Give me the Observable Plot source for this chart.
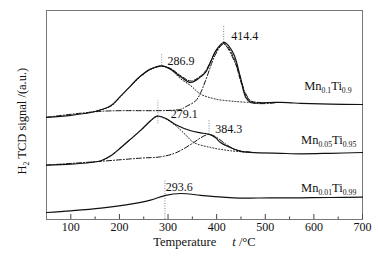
<!DOCTYPE html>
<html>
<head>
<meta charset="utf-8">
<script src="https://cdn.jsdelivr.net/npm/d3@7"></script>
<script src="https://cdn.jsdelivr.net/npm/@observablehq/plot@0.6"></script>
<style>
  html, body { margin: 0; padding: 0; background: #fff; }
  svg, svg text, svg tspan { font-family: "Liberation Serif", "Times New Roman", serif !important; }
</style>
</head>
<body>
<div id="chart"></div>
<script>
// ---------- data (temperature °C, signal a.u.) ----------
const xDomain = [50, 700];
const yDomain = [0, 209];
const majorTicks = [100, 200, 300, 400, 500, 600, 700];
const minorTicks = [150, 250, 350, 450, 550, 650];

// Mn0.1Ti0.9
const topT     = [50,100,141,162,182,203,223,244,264,287,305,326,347,367,377,388,398,414,418,435,449,460,470,491,511,532,553,573,634,700];
const topS     = [102.2,104.2,107,109.7,113.7,123.7,133.7,143.7,150.4,153.7,150.4,142.7,137,142.7,147,158,168.7,177,176.7,165.4,142,122,117,116.7,116.9,117.2,116.7,116.2,115.4,115];
const topFitT  = [244,264,287,305,326,347,367,377,398,414,418,435,449,460,470,491];
const topFitS  = [143.5,150.2,153.2,151,143.8,138.5,143.5,148.5,167.5,176,175.5,162,139,124,118.5,117];
const topP1T   = [141,182,203,223,244,264,287,305,326,347,367,398,439,470];
const topP1S   = [107.2,113.2,123.2,133.2,143.2,150.2,153.4,150.2,140.7,133.7,125.4,120.4,118,117];
const topP2T   = [50,162,326,336,357,367,377,398,414,439,460,474,520];
const topP2S   = [102.2,108.2,110.2,112.7,118.7,126.7,138.7,165.4,175.4,155.7,125.7,117,116.7];

// Mn0.05Ti0.95
const midT     = [50,100,141,162,182,203,223,244,264,277,295,316,347,367,384,398,408,429,449,470,532,573,634,700];
const midS     = [54.4,55.4,57,58.7,63.7,72,80.4,89.4,98.7,103.4,101.2,94.7,88.7,86.7,85.2,81.7,77,71.7,68.2,67.2,66.2,65.7,66.2,67];
const midP1T   = [162,182,203,223,244,264,277,295,316,336,353,388,429,470];
const midP1S   = [58.4,63.4,71.7,80.1,89.1,98.4,103.1,100.7,93.7,84.7,77,72,68.7,67.2];
const midP2T   = [50,162,244,285,316,353,367,384,398,418,439,470];
const midP2S   = [54.4,58.2,61.4,62.7,66.7,77,81.7,85.2,82.7,75.7,69.7,67.2];

// Mn0.01Ti0.99
const lowT     = [50,100,162,223,264,295,326,367,412,447,511,573,634,700];
const lowS     = [7,8.7,11.4,15.4,19.4,24.2,26,24.2,22.4,21.4,21.7,21.7,22,22.4];

// peak markers
const peakLabels = ["414.4", "286.9", "279.1", "384.3", "293.6"];
const peakT      = [414.4, 286.9, 279.1, 384.3, 293.6];
const peakLow    = [177, 153.7, 95.7, 85.2, 0];
const peakHigh   = [193.7, 165.7, 118.7, 98.7, 38.7];
const peakTextT  = [430, 298.7, 305.5, 397, 295.2];
const peakTextS  = [183.7, 158.7, 105.7, 90.7, 32];

// series names
const seriesNames = ["Mn_{0.1}Ti_{0.9}", "Mn_{0.05}Ti_{0.95}", "Mn_{0.01}Ti_{0.99}"];
const seriesNameT = [677.5, 687.2, 687.2];
const seriesNameS = [133.5, 79.4, 31.2];

const xLabel = "Temperature|*t* /°C";
const yLabel = "H_{2} TCD signal /(a.u.)";

// ---------- build ----------
const FONT = "Liberation Serif, Times New Roman, serif";
const rows = (T, S) => T.map((t, i) => ({t, s: S[i]}));
const peaks = peakT.map((t, i) => ({t, lo: peakLow[i], hi: peakHigh[i], tt: peakTextT[i], ts: peakTextS[i], label: peakLabels[i]}));
const names = seriesNames.map((n, i) => ({n, t: seriesNameT[i], s: seriesNameS[i]}));

const lineOpts = (extra) => Object.assign({x: "t", y: "s", curve: "catmull-rom", stroke: "#111", strokeWidth: 1.2}, extra);

const plot = Plot.plot({
  width: 378,
  height: 257,
  marginLeft: 46,
  marginRight: 16,
  marginTop: 10,
  marginBottom: 38,
  style: {fontFamily: FONT, fontSize: "12px", color: "#111", background: "#fff"},
  x: {domain: xDomain},
  y: {domain: yDomain, axis: null},
  marks: [
    Plot.frame({stroke: "#777", strokeWidth: 1}),
    Plot.axisX({ticks: majorTicks, tickSize: -5, tickPadding: 7.5, label: null, stroke: "#444", fontSize: 12, fill: "#111"}),
    Plot.axisX({ticks: minorTicks, tickSize: -2.5, tickFormat: () => "", label: null, stroke: "#444"}),
    // peak markers
    Plot.ruleX(peaks, {x: "t", y1: "lo", y2: "hi", stroke: "#666", strokeWidth: 0.8, strokeDasharray: "1,1.5"}),
    // components
    Plot.line(rows(topP1T, topP1S), lineOpts({strokeDasharray: "1,2", strokeWidth: 1})),
    Plot.line(rows(topP2T, topP2S), lineOpts({strokeDasharray: "5,2,1,2", strokeWidth: 1})),
    Plot.line(rows(topFitT, topFitS), lineOpts({strokeDasharray: "4,2", strokeWidth: 1})),
    Plot.line(rows(midP1T, midP1S), lineOpts({strokeDasharray: "1,2", strokeWidth: 1})),
    Plot.line(rows(midP2T, midP2S), lineOpts({strokeDasharray: "5,2,1,2", strokeWidth: 1})),
    // measured
    Plot.line(rows(topT, topS), lineOpts({})),
    Plot.line(rows(midT, midS), lineOpts({})),
    Plot.line(rows(lowT, lowS), lineOpts({})),
    // labels
    Plot.text(peaks, {x: "tt", y: "ts", text: "label", textAnchor: "start", fontSize: 12, fill: "#111"}),
    Plot.text(names, {x: "t", y: "s", text: "n", textAnchor: "end", fontSize: 12.5, fill: "#111"}),
    Plot.text([xLabel], {frameAnchor: "bottom", textAnchor: "middle", dy: 26, text: d => d, fontSize: 12.5, fill: "#111"}),
    Plot.text([yLabel], {frameAnchor: "bottom-left", textAnchor: "start", rotate: -90, dx: -21, dy: -45, text: d => d, fontSize: 12.5, fill: "#111"})
  ]
});

// rich text: subscripts _{..}, italics *..*, gaps |
function richify(root) {
  d3.select(root).selectAll("text").each(function () {
    if (this.querySelector("tspan")) return;
    const s = this.textContent;
    if (!/_\{|\*|\|/.test(s)) return;
    const re = /_\{([^}]*)\}|\*([^*]*)\*|\|/g;
    const parts = [];
    let last = 0, m;
    while ((m = re.exec(s))) {
      if (m.index > last) parts.push({t: s.slice(last, m.index)});
      if (m[1] !== undefined) parts.push({t: m[1], sub: true});
      else if (m[2] !== undefined) parts.push({t: m[2], it: true});
      else parts.push({gap: true});
      last = re.lastIndex;
    }
    if (last < s.length) parts.push({t: s.slice(last)});
    const el = d3.select(this);
    el.text(null);
    let shifted = 0, pendingDx = 0;
    for (const p of parts) {
      if (p.gap) { pendingDx += 16; continue; }
      const ts = el.append("tspan").text(p.t);
      if (pendingDx) { ts.attr("dx", pendingDx); pendingDx = 0; }
      if (p.sub) {
        ts.attr("font-size", "0.62em").attr("dy", 3.2 - shifted);
        shifted = 3.2;
      } else {
        if (shifted) { ts.attr("dy", -shifted); shifted = 0; }
        if (p.it) ts.attr("font-style", "italic");
      }
    }
  });
}
richify(plot);
plot.setAttribute("font-family", FONT);
d3.select(plot).selectAll("text").attr("font-family", FONT);
document.getElementById("chart").appendChild(plot);
</script>
</body>
</html>
